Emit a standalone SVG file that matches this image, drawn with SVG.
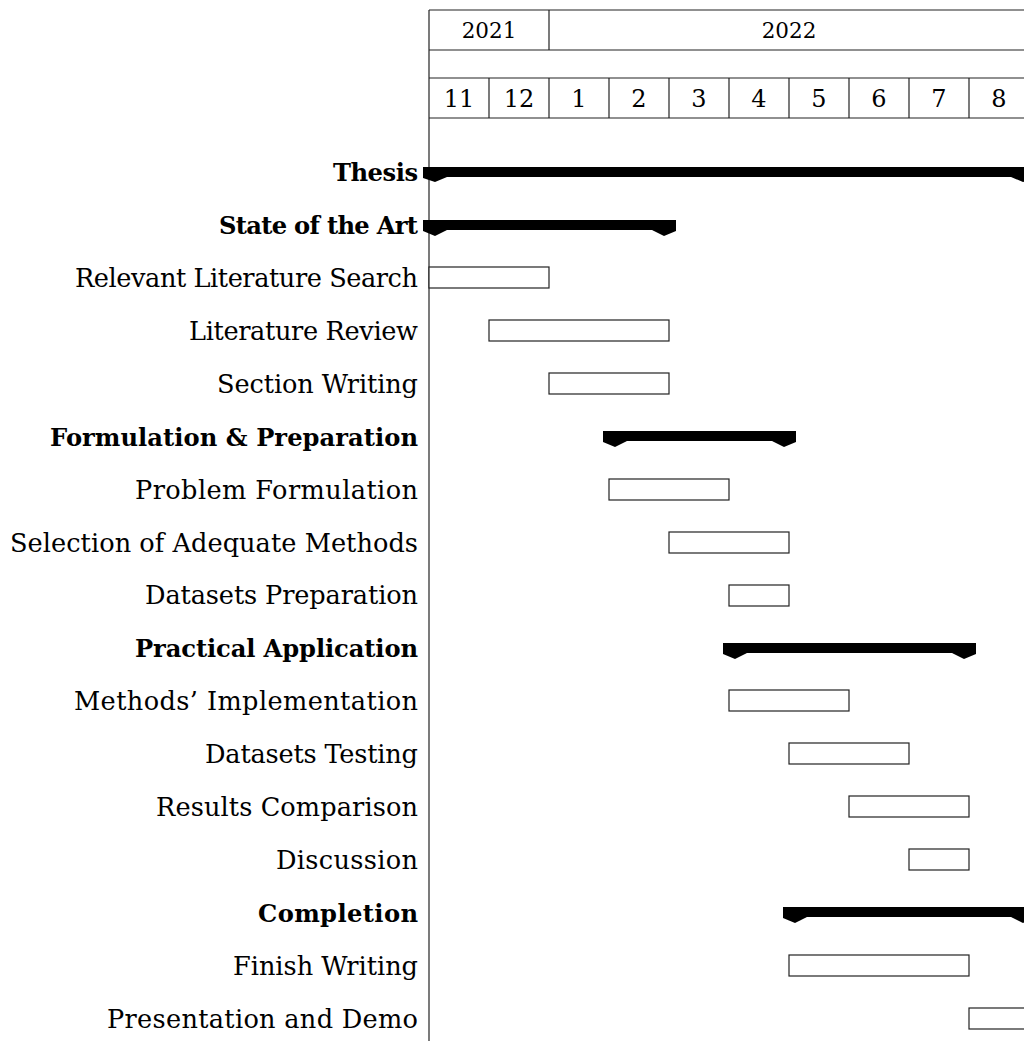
<svg xmlns="http://www.w3.org/2000/svg" width="1024" height="1041" viewBox="0 0 1024 1041">
<style>
.lbl{font-family:"DejaVu Serif","Liberation Serif",serif;font-size:25.6px;fill:#000;text-anchor:end}
.grp{font-weight:bold;font-size:24.2px}
.yr{font-family:"DejaVu Serif","Liberation Serif",serif;font-size:21.5px;fill:#000;text-anchor:middle}
.mo{font-family:"DejaVu Serif","Liberation Serif",serif;font-size:24px;fill:#000;text-anchor:middle}
.cell{fill:none;stroke:#222;stroke-width:1.2}
.task{fill:#fff;stroke:#222;stroke-width:1.2}
.bar{fill:#000}
</style>
<rect width="1024" height="1041" fill="#fff"/>
<g id="header">
<line class="cell" x1="429" y1="10" x2="1030" y2="10"/>
<line class="cell" x1="429" y1="50" x2="1030" y2="50"/>
<line class="cell" x1="549" y1="10" x2="549" y2="50"/>
<line class="cell" x1="429" y1="78" x2="1030" y2="78"/>
<line class="cell" x1="429" y1="118" x2="1030" y2="118"/>
<line class="cell" x1="489" y1="78" x2="489" y2="118"/>
<line class="cell" x1="549" y1="78" x2="549" y2="118"/>
<line class="cell" x1="609" y1="78" x2="609" y2="118"/>
<line class="cell" x1="669" y1="78" x2="669" y2="118"/>
<line class="cell" x1="729" y1="78" x2="729" y2="118"/>
<line class="cell" x1="789" y1="78" x2="789" y2="118"/>
<line class="cell" x1="849" y1="78" x2="849" y2="118"/>
<line class="cell" x1="909" y1="78" x2="909" y2="118"/>
<line class="cell" x1="969" y1="78" x2="969" y2="118"/>
<text class="yr" x="489" y="38">2021</text>
<text class="yr" x="789" y="38">2022</text>
<text class="mo" x="459" y="107">11</text>
<text class="mo" x="519" y="107">12</text>
<text class="mo" x="579" y="107">1</text>
<text class="mo" x="639" y="107">2</text>
<text class="mo" x="699" y="107">3</text>
<text class="mo" x="759" y="107">4</text>
<text class="mo" x="819" y="107">5</text>
<text class="mo" x="879" y="107">6</text>
<text class="mo" x="939" y="107">7</text>
<text class="mo" x="999" y="107">8</text>
</g>
<line class="cell" x1="429" y1="10" x2="429" y2="1041"/>
<g id="thesis"><text class="lbl grp" x="418" y="181" textLength="85">Thesis</text><path class="bar" d="M423,167 H1035 V178 L1023,182 L1011,177 H447 L435,182 L423,178 Z"/></g>
<g id="sota"><text class="lbl grp" x="418" y="234" textLength="199">State of the Art</text><path class="bar" d="M423,220 H676 V231 L664,236 L652,230 H447 L435,236 L423,231 Z"/></g>
<g id="t-rls"><text class="lbl" x="418" y="287" textLength="343">Relevant Literature Search</text><rect class="task" x="429" y="267" width="120" height="21"/></g>
<g id="t-lr"><text class="lbl" x="418" y="340" textLength="229">Literature Review</text><rect class="task" x="489" y="320" width="180" height="21"/></g>
<g id="t-sw"><text class="lbl" x="418" y="393" textLength="201">Section Writing</text><rect class="task" x="549" y="373" width="120" height="21"/></g>
<g id="fp"><text class="lbl grp" x="418" y="446" textLength="368">Formulation &amp; Preparation</text><path class="bar" d="M603,431 H796 V442 L784,447 L772,441 H627 L615,447 L603,442 Z"/></g>
<g id="t-pf"><text class="lbl" x="418" y="499" textLength="283">Problem Formulation</text><rect class="task" x="609" y="479" width="120" height="21"/></g>
<g id="t-sam"><text class="lbl" x="418" y="552" textLength="408">Selection of Adequate Methods</text><rect class="task" x="669" y="532" width="120" height="21"/></g>
<g id="t-dp"><text class="lbl" x="418" y="604" textLength="273">Datasets Preparation</text><rect class="task" x="729" y="585" width="60" height="21"/></g>
<g id="pa"><text class="lbl grp" x="418" y="657" textLength="283">Practical Application</text><path class="bar" d="M723,643 H976 V654 L964,659 L952,653 H747 L735,659 L723,654 Z"/></g>
<g id="t-mi"><text class="lbl" x="418" y="710" textLength="344">Methods’ Implementation</text><rect class="task" x="729" y="690" width="120" height="21"/></g>
<g id="t-dt"><text class="lbl" x="418" y="763" textLength="213">Datasets Testing</text><rect class="task" x="789" y="743" width="120" height="21"/></g>
<g id="t-rc"><text class="lbl" x="418" y="816" textLength="262">Results Comparison</text><rect class="task" x="849" y="796" width="120" height="21"/></g>
<g id="t-disc"><text class="lbl" x="418" y="869" textLength="142">Discussion</text><rect class="task" x="909" y="849" width="60" height="21"/></g>
<g id="comp"><text class="lbl grp" x="418" y="922" textLength="160">Completion</text><path class="bar" d="M783,907 H1035 V918 L1023,923 L1011,917 H807 L795,923 L783,918 Z"/></g>
<g id="t-fw"><text class="lbl" x="418" y="975" textLength="185">Finish Writing</text><rect class="task" x="789" y="955" width="180" height="21"/></g>
<g id="t-pd"><text class="lbl" x="418" y="1028" textLength="311">Presentation and Demo</text><rect class="task" x="969" y="1008" width="60" height="21"/></g>
</svg>
